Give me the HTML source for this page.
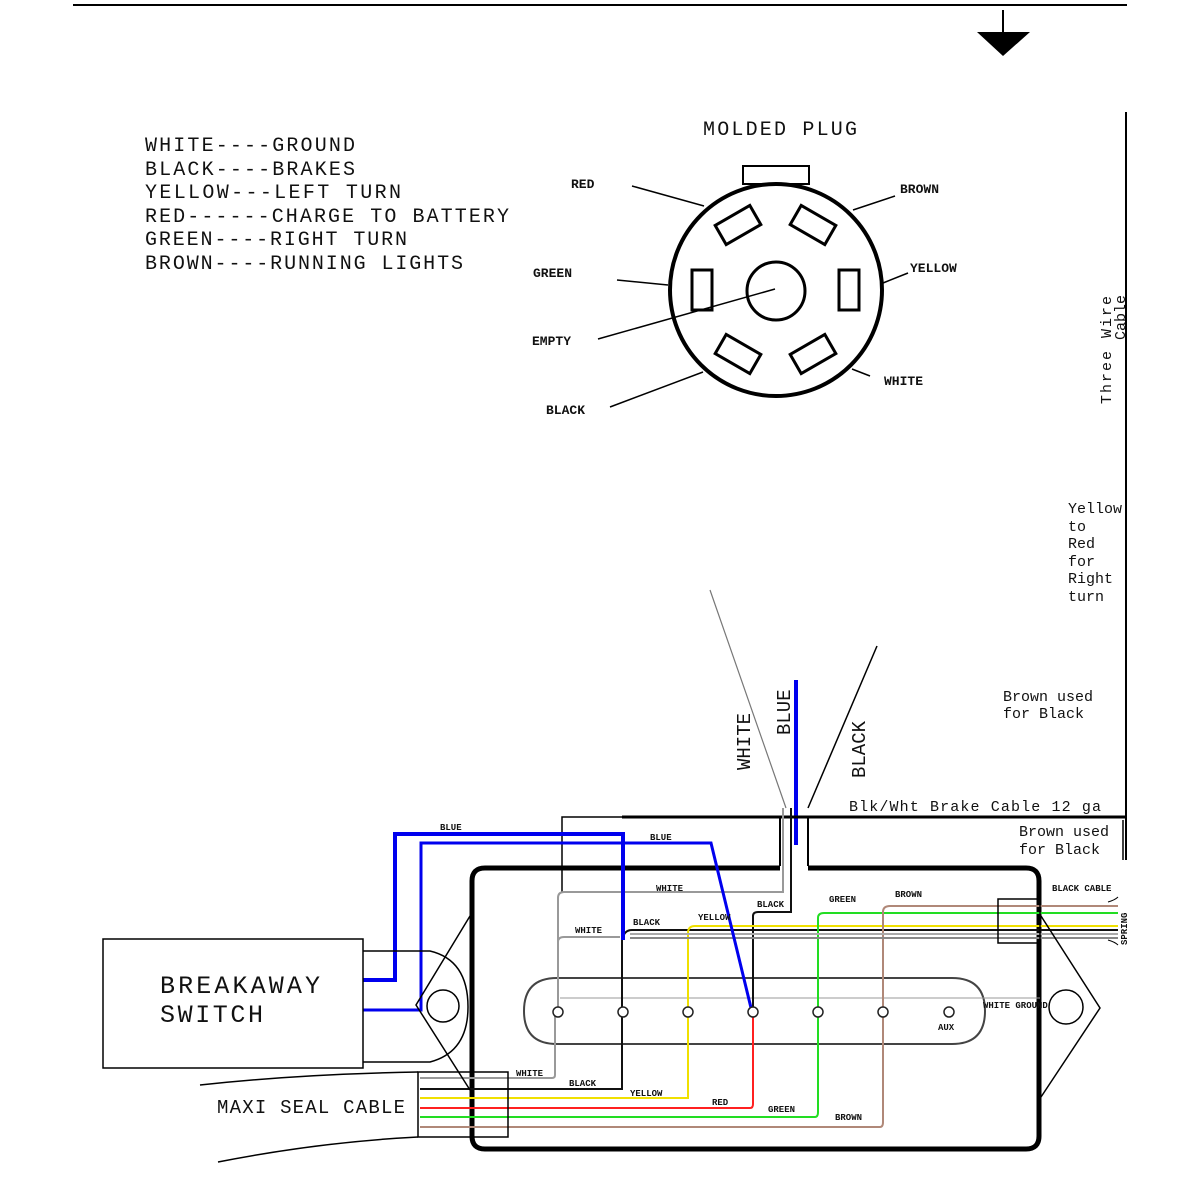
<!DOCTYPE html>
<html><head><meta charset="utf-8"><style>html,body{margin:0;padding:0;background:#fff}svg{display:block}</style></head><body>
<svg width="1200" height="1200" viewBox="0 0 1200 1200" xmlns="http://www.w3.org/2000/svg" font-family="Liberation Mono, monospace">
<rect width="1200" height="1200" fill="#fff"/>
<line x1="73" y1="5" x2="1127" y2="5" stroke="#000" stroke-width="2"/>
<line x1="1003" y1="10" x2="1003" y2="35" stroke="#000" stroke-width="2"/>
<polygon points="977,32 1030,32 1003,56" fill="#000"/>
<line x1="1126" y1="112" x2="1126" y2="860" stroke="#000" stroke-width="2"/>
<g font-size="20" fill="#111">
<text x="145" y="151" textLength="210">WHITE----GROUND</text>
<text x="145" y="175" textLength="210">BLACK----BRAKES</text>
<text x="145" y="198" textLength="256">YELLOW---LEFT TURN</text>
<text x="145" y="222" textLength="364">RED------CHARGE TO BATTERY</text>
<text x="145" y="245" textLength="262">GREEN----RIGHT TURN</text>
<text x="145" y="269" textLength="318">BROWN----RUNNING LIGHTS</text>
<text x="703" y="135" textLength="154">MOLDED PLUG</text>
</g>
<g stroke="#000" fill="none">
<rect x="743" y="166" width="66" height="18" stroke-width="2"/>
<circle cx="776" cy="290" r="106" stroke-width="4" fill="#fff"/>
<circle cx="776" cy="291" r="29" stroke-width="3"/>
<rect x="692" y="270" width="20" height="40" stroke-width="3"/>
<rect x="839" y="270" width="20" height="40" stroke-width="3"/>
<rect x="-20" y="-11" width="40" height="22" stroke-width="3" transform="translate(738,225) rotate(-30)"/>
<rect x="-20" y="-11" width="40" height="22" stroke-width="3" transform="translate(813,225) rotate(30)"/>
<rect x="-20" y="-11" width="40" height="22" stroke-width="3" transform="translate(738,354) rotate(30)"/>
<rect x="-20" y="-11" width="40" height="22" stroke-width="3" transform="translate(813,354) rotate(-30)"/>
<g stroke-width="1.5">
<line x1="632" y1="186" x2="704" y2="206"/>
<line x1="853" y1="210" x2="895" y2="196"/>
<line x1="617" y1="280" x2="668" y2="285"/>
<line x1="883" y1="283" x2="908" y2="273"/>
<line x1="598" y1="339" x2="775" y2="289"/>
<line x1="852" y1="369" x2="870" y2="376"/>
<line x1="610" y1="407" x2="703" y2="372"/>
</g>
</g>
<g font-size="13" font-weight="bold" fill="#111">
<text x="571" y="188">RED</text>
<text x="900" y="193">BROWN</text>
<text x="533" y="277">GREEN</text>
<text x="910" y="272">YELLOW</text>
<text x="532" y="345">EMPTY</text>
<text x="884" y="385">WHITE</text>
<text x="546" y="414">BLACK</text>
</g>
<g font-size="15" fill="#111">
<text transform="translate(1111,404) rotate(-90)" textLength="108">Three Wire</text>
<text transform="translate(1125,340) rotate(-90)">Cable</text>
<text x="1068" y="513">Yellow</text><text x="1068" y="531">to</text><text x="1068" y="548">Red</text><text x="1068" y="566">for</text><text x="1068" y="583">Right</text><text x="1068" y="601">turn</text>
<text x="1003" y="701">Brown used</text><text x="1003" y="718">for Black</text>
<text x="849" y="811" textLength="252">Blk/Wht Brake Cable 12 ga</text>
<text x="1019" y="836">Brown used</text><text x="1019" y="854">for Black</text>
</g>
<line x1="1123" y1="820" x2="1123" y2="860" stroke="#000" stroke-width="1.5"/>
<line x1="710" y1="590" x2="786" y2="808" stroke="#777" stroke-width="1.2"/>
<line x1="877" y1="646" x2="808" y2="808" stroke="#000" stroke-width="1.5"/>
<g font-size="19" fill="#111">
<text transform="translate(750,770) rotate(-90)">WHITE</text>
<text transform="translate(790,735) rotate(-90)">BLUE</text>
<text transform="translate(865,778) rotate(-90)">BLACK</text>
</g>
<line x1="796" y1="680" x2="796" y2="845" stroke="#0000ee" stroke-width="4"/>
<!-- frame lines -->
<line x1="622" y1="817" x2="1126" y2="817" stroke="#000" stroke-width="3"/>
<polyline points="562,892 562,817 622,817" fill="none" stroke="#000" stroke-width="1.5"/>
<line x1="780" y1="817" x2="780" y2="866" stroke="#000" stroke-width="2"/>
<line x1="808" y1="817" x2="808" y2="866" stroke="#000" stroke-width="2"/>
<!-- main box -->
<path d="M780,868 H485 Q472,868 472,881 V1136 Q472,1149 485,1149 H1026 Q1039,1149 1039,1136 V881 Q1039,868 1026,868 H808" fill="none" stroke="#000" stroke-width="5"/>
<!-- terminal strip -->
<path d="M557,978 H952 Q985,978 985,1011 Q985,1044 952,1044 H557 Q524,1044 524,1011 Q524,978 557,978 Z" fill="none" stroke="#444" stroke-width="2"/>
<line x1="560" y1="998" x2="1040" y2="998" stroke="#999" stroke-width="1"/>
<!-- wires -->
<g fill="none" stroke-width="2">
<path d="M420,1078 H552 Q555,1078 555,1075 V1012 M558,1012 V898 Q558,892 564,892 H783 V808" stroke="#999"/>
<path d="M558,1012 V942 Q558,937 564,937 H620" stroke="#999"/>
<path d="M420,1089 H622 V940 Q624,930 632,930 H1118" stroke="#111"/>
<path d="M753,1012 V916 Q753,912 758,912 H791 V808" stroke="#111"/>
<path d="M420,1098 H688 V933 Q688,926 695,926 H1118" stroke="#f0e000"/>
<path d="M420,1108 H750 Q753,1108 753,1104 V1012" stroke="#ff2020"/>
<path d="M420,1117 H815 Q818,1117 818,1112 V1012" stroke="#22dd22"/>
<path d="M818,1012 V918 Q818,913 824,913 H1118" stroke="#22dd22"/>
<path d="M420,1127 H880 Q883,1127 883,1122 V912 Q883,906 890,906 H1118" stroke="#b08878"/>
<line x1="630" y1="934" x2="1118" y2="934" stroke="#aaa"/>
<line x1="630" y1="938" x2="1118" y2="938" stroke="#888"/>
<path d="M363,980 H395 V834 H623 V940" stroke="#0000ee" stroke-width="4"/>
<path d="M363,1010 H421 V843 H711 L752,1012" stroke="#0000ee" stroke-width="3"/>
<line x1="711" y1="843" x2="752" y2="1012" stroke="#0000ee" stroke-width="2"/>
</g>
<g fill="#fff" stroke="#222" stroke-width="1.5">
<circle cx="558" cy="1012" r="5"/><circle cx="623" cy="1012" r="5"/><circle cx="688" cy="1012" r="5"/><circle cx="753" cy="1012" r="5"/><circle cx="818" cy="1012" r="5"/><circle cx="883" cy="1012" r="5"/><circle cx="949" cy="1012" r="5"/>
</g>
<!-- right mount -->
<rect x="998" y="899" width="42" height="44" fill="none" stroke="#000" stroke-width="1.5"/>
<path d="M1041,916 L1100,1008 L1041,1097" fill="none" stroke="#000" stroke-width="1.5"/>
<circle cx="1066" cy="1007" r="17" fill="none" stroke="#000" stroke-width="1.5"/>
<path d="M1118,897 Q1115,900 1108,902 M1118,945 Q1115,942 1108,940" stroke="#000" fill="none"/>
<!-- left mount -->
<path d="M470,916 L416,1005 L470,1090" fill="none" stroke="#000" stroke-width="1.5"/>
<path d="M363,951 H430 Q468,960 468,1007 Q468,1052 430,1062 H363" fill="none" stroke="#000" stroke-width="1.5"/>
<circle cx="443" cy="1006" r="16" fill="none" stroke="#000" stroke-width="1.5"/>
<rect x="103" y="939" width="260" height="129" fill="#fff" stroke="#000" stroke-width="1.5"/>
<text x="160" y="993" font-size="25" fill="#111" textLength="160">BREAKAWAY</text>
<text x="160" y="1022" font-size="25" fill="#111" textLength="103">SWITCH</text>
<rect x="418" y="1072" width="90" height="65" fill="none" stroke="#000" stroke-width="1.5"/>
<path d="M200,1085 Q300,1074 418,1072 M218,1162 Q320,1142 418,1137" fill="none" stroke="#000" stroke-width="1.5"/>
<text x="217" y="1113" font-size="19" fill="#111" textLength="188">MAXI SEAL CABLE</text>
<g font-size="9" font-weight="bold" fill="#111">
<text x="440" y="830">BLUE</text>
<text x="650" y="840">BLUE</text>
<text x="656" y="891">WHITE</text>
<text x="575" y="933">WHITE</text>
<text x="633" y="925">BLACK</text>
<text x="698" y="920">YELLOW</text>
<text x="757" y="907">BLACK</text>
<text x="829" y="902">GREEN</text>
<text x="895" y="897">BROWN</text>
<text x="1052" y="891">BLACK CABLE</text>
<text x="516" y="1076">WHITE</text>
<text x="569" y="1086">BLACK</text>
<text x="630" y="1096">YELLOW</text>
<text x="712" y="1105">RED</text>
<text x="768" y="1112">GREEN</text>
<text x="835" y="1120">BROWN</text>
<text x="983" y="1008">WHITE GROUND</text>
<text x="938" y="1030">AUX</text>
<text transform="translate(1127,945) rotate(-90)">SPRING</text>
</g>
</svg>
</body></html>
